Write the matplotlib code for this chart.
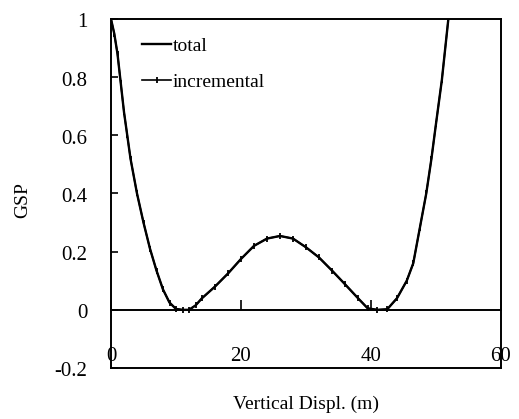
import matplotlib
matplotlib.use("Agg")
import matplotlib.pyplot as plt
import matplotlib.transforms as mtrans

# Data
disp = [0, 0.5, 1.0, 1.5, 2.0, 2.5, 3.0, 4.0, 5.0, 6.0, 7.0, 8.0, 9.0, 10.0,
        11.0, 12.0, 13.0, 14.0, 16.0, 18.0, 20.0, 22.0, 24.0, 26.0, 28.0, 30.0,
        32.0, 34.0, 36.0, 38.0, 39.5, 41.0, 42.5, 44.0, 45.5, 46.5, 47.5, 48.5,
        49.3, 50.0, 50.9, 51.9]
total = [1.0, 0.95, 0.88, 0.78, 0.68, 0.60, 0.52, 0.40, 0.30, 0.21, 0.135, 0.07,
         0.025, 0.003, 0.0, 0.0, 0.015, 0.04, 0.08, 0.125, 0.175, 0.22, 0.245,
         0.254, 0.245, 0.215, 0.18, 0.135, 0.088, 0.04, 0.005, 0.0, 0.002, 0.04,
         0.10, 0.16, 0.28, 0.40, 0.52, 0.64, 0.79, 1.0]
incremental = list(total)

xticks = [0, 20, 40, 60]
yticks = [-0.2, 0, 0.2, 0.4, 0.6, 0.8, 1]
yticklabels = ["-0.2", "0", "0.2", "0.4", "0.6", "0.8", "1"]

plt.rcParams['font.family'] = ['Liberation Serif', 'DejaVu Serif']

fig = plt.figure(figsize=(5.19, 4.19), dpi=100)
ax = fig.add_axes([111/519, 1-368/419, 390/519, 349/419])

ax.plot(disp, total, color='black', lw=1.7, label='total', zorder=3)
ax.plot(disp, incremental, color='black', lw=1.2, marker='|', markersize=4,
        markeredgewidth=1.3, label='incremental', zorder=4)

ax.set_xlim(0, 60)
ax.set_ylim(-0.2, 1)

for s in ax.spines.values():
    s.set_linewidth(1.4)
    s.set_color('black')

ax.set_yticks(yticks)
ax.set_yticklabels(yticklabels, va='top')
ax.tick_params(axis='y', direction='in', length=5, width=1.2, pad=17, labelsize=15)
offset = mtrans.ScaledTranslation(0, 4/72, fig.dpi_scale_trans)
for lbl in ax.get_yticklabels():
    lbl.set_transform(lbl.get_transform() + offset)

ax.set_xticks(xticks)
ax.set_xticklabels([str(v) for v in xticks])
ax.tick_params(axis='x', direction='in', length=0, pad=-15, labelsize=15)

# zero axis line with upward ticks
sec = ax.secondary_xaxis((0 - (-0.2)) / 1.2)
sec.set_xticks(xticks)
sec.tick_params(axis='x', direction='in', length=7, width=1.2, labelbottom=False,
                labeltop=False)
sec.spines['bottom'].set_linewidth(1.4)
sec.spines['bottom'].set_color('black')
sec.xaxis.set_ticklabels([])

ax.set_xlabel('Vertical Displ. (m)', fontsize=14, labelpad=20)
ax.set_ylabel('GSP', fontsize=14)
ax.yaxis.set_label_coords(-0.205, 0.48)

leg = ax.legend(loc='upper left', bbox_to_anchor=(0.08, 0.948), frameon=False,
                fontsize=14, handlelength=1.5, handletextpad=0.05,
                labelspacing=0.95, borderpad=0, borderaxespad=0)

fig.savefig('out.png', dpi=100)
